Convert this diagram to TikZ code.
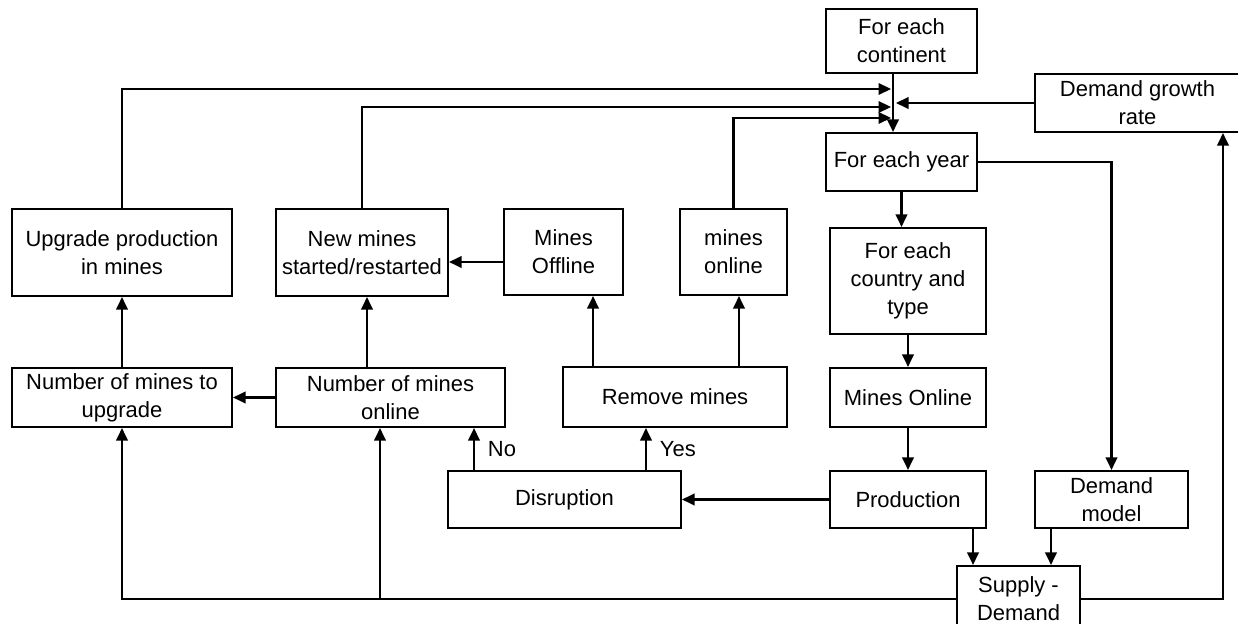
\documentclass[tikz,border=0pt]{standalone}
\usepackage{fontspec}
\setmainfont{Liberation Sans}
\usetikzlibrary{arrows.meta}
\begin{document}
\begin{tikzpicture}[x=0.02cm, y=-0.02cm,
    box/.style={draw, line width=1.2pt, align=center, inner sep=0pt, font=\fontsize{12.5}{16}\selectfont},
    arr/.style={line width=1.2pt, -{Triangle[length=0.25cm, width=0.23cm]}},
    lbl/.style={font=\fontsize{12.5}{16}\selectfont}]
    \useasboundingbox (0,0) rectangle (1238,624);
    \node[box, minimum width=3.02cm, minimum height=1.28cm] (cont) at (901.5,41) {For each\\continent};
    \node[box, minimum width=4.1cm, minimum height=1.16cm] (growth) at (1137.5,103) {Demand growth\\rate};
    \node[box, minimum width=3.02cm, minimum height=1.16cm] (year) at (901.5,162) {For each year};
    \node[box, minimum width=3.12cm, minimum height=2.12cm] (country) at (908,281) {For each\\country and\\type};
    \node[box, minimum width=3.12cm, minimum height=1.18cm] (mon) at (908,397.5) {Mines Online};
    \node[box, minimum width=3.12cm, minimum height=1.14cm] (prod) at (908,499.5) {Production};
    \node[box, minimum width=3.06cm, minimum height=1.14cm] (dmod) at (1111.5,499.5) {Demand\\model};
    \node[box, minimum width=2.46cm, minimum height=1.32cm] (sd) at (1018.5,599) {Supply -\\Demand};
    \node[box, minimum width=4.66cm, minimum height=1.14cm] (disr) at (564.5,499.5) {Disruption};
    \node[box, minimum width=4.48cm, minimum height=1.2cm] (rem) at (675,397) {Remove mines};
    \node[box, minimum width=4.58cm, minimum height=1.18cm] (non) at (390.5,397.5) {Number of mines\\online};
    \node[box, minimum width=4.4cm, minimum height=1.18cm] (nup) at (122,397.5) {Number of mines to\\upgrade};
    \node[box, minimum width=4.4cm, minimum height=1.74cm] (upg) at (122,252.5) {Upgrade production\\in mines};
    \node[box, minimum width=3.44cm, minimum height=1.74cm] (newm) at (362,252.5) {New mines\\started/restarted};
    \node[box, minimum width=2.38cm, minimum height=1.72cm] (off) at (563.5,252) {Mines\\Offline};
    \node[box, minimum width=2.14cm, minimum height=1.72cm] (onl) at (733.5,252) {mines\\online};
    \coordinate (hub) at (893,0);
    \coordinate (j1) at (891,89);
    \coordinate (j2) at (891,107);
    \coordinate (j3) at (891,118);
    \coordinate (j4) at (896,103);
    \draw[arr] (cont.south -| hub) -- (year.north -| hub);
    \draw[arr] (upg.north) |- (j1);
    \draw[arr] (newm.north) |- (j2);
    \draw[arr] (onl.north) |- (j3);
    \draw[arr] (growth.west) -- (j4);
    \draw[arr] (year.east) -| (dmod.north);
    \draw[arr] (year.south) -- (year.south |- country.north);
    \draw[arr] (country.south) -- (mon.north);
    \draw[arr] (mon.south) -- (prod.north);
    \draw[arr] (prod.west) -- (disr.east);
    \draw[arr] ([xshift=-1.81cm]disr.north) -- ([xshift=-1.81cm]disr.north |- non.south) node[lbl, midway, right=4pt] {No};
    \draw[arr] ([xshift=1.63cm]disr.north) -- ([xshift=1.63cm]disr.north |- rem.south) node[lbl, midway, right=4pt] {Yes};
    \draw[arr] ([xshift=-1.64cm]rem.north) -- ([xshift=-1.64cm]rem.north |- off.south);
    \draw[arr] ([xshift=1.28cm]rem.north) -- ([xshift=1.28cm]rem.north |- onl.south);
    \draw[arr] ([yshift=-0.2cm]off.west) -- ([yshift=-0.2cm]off.west -| newm.east);
    \draw[arr] ([xshift=0.1cm]newm.south |- non.north) -- ([xshift=0.1cm]newm.south);
    \draw[arr] (non.west) -- (nup.east);
    \draw[arr] (nup.north) -- (upg.south);
    \draw[arr] ([xshift=-0.91cm]sd.north |- prod.south) -- ([xshift=-0.91cm]sd.north);
    \draw[arr] ([xshift=0.65cm]sd.north |- dmod.south) -- ([xshift=0.65cm]sd.north);
    \draw[arr] (sd.west) -| (nup.south);
    \draw[arr] ([xshift=-0.21cm]non.south |- sd.west) -- ([xshift=-0.21cm]non.south);
    \draw[arr] (sd.east) -| ([xshift=1.71cm]growth.south);
\end{tikzpicture}
\end{document}
